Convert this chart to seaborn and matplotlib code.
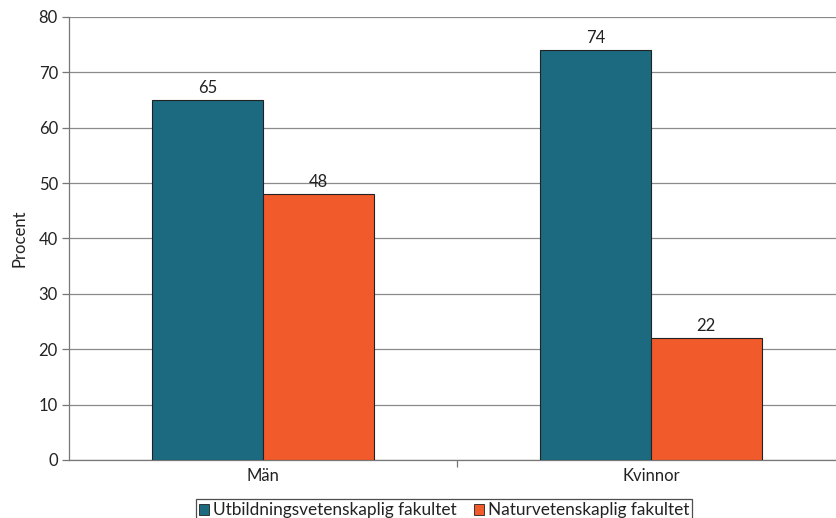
import matplotlib
matplotlib.use("Agg")
import matplotlib.pyplot as plt
import seaborn as sns
import pandas as pd
from matplotlib.patches import Patch

categories = ["Män", "Kvinnor"]
series_names = ["Utbildningsvetenskaplig fakultet", "Naturvetenskaplig fakultet"]
utb_values = [65, 74]
nat_values = [48, 22]
colors = ["#1b6a80", "#f15a2b"]

sns.set_theme(style="white")
plt.rcParams['font.family'] = ['Lato', 'DejaVu Sans']

df = pd.DataFrame({
    "kategori": categories * 2,
    "serie": [series_names[0]] * 2 + [series_names[1]] * 2,
    "procent": utb_values + nat_values,
})

fig = plt.figure(figsize=(8.37, 5.18), dpi=100)
ax = fig.add_axes([69/837, 1-460/518, 776/837, (460-17)/518])

sns.barplot(data=df, x="kategori", y="procent", hue="serie", order=categories,
            hue_order=series_names, palette=colors, width=0.57, dodge=True,
            edgecolor="#222222", linewidth=0.8, saturation=1, ax=ax, legend=False, zorder=3)

for cont in ax.containers:
    ax.bar_label(cont, fmt="%d", padding=3, fontsize=12, color="#222222")

ax.set_ylim(0, 80)
ax.set_xlim(-0.5, 1.5)
ax.set_yticks(range(0, 81, 10))
ax.yaxis.grid(True, color="#8a8a8a", linewidth=0.9, zorder=0)
ax.set_axisbelow(True)
ax.tick_params(axis="y", which="major", length=5, width=0.9, color="#777777",
               direction="out", left=True, labelsize=12, labelcolor="#222222", pad=3)
ax.tick_params(axis="x", which="major", length=0, labelsize=12, labelcolor="#222222", pad=6)
ax.set_xticks([0.5], minor=True)
ax.tick_params(axis="x", which="minor", length=5, width=0.9, color="#777777", direction="out", bottom=True)
for s in ["top", "right"]:
    ax.spines[s].set_visible(False)
for s in ["left", "bottom"]:
    ax.spines[s].set_color("#777777")
    ax.spines[s].set_linewidth(0.9)
ax.set_xlabel("")
ax.set_ylabel("Procent", fontsize=12, color="#222222", labelpad=8)

handles = [Patch(facecolor=c, edgecolor="#222222", linewidth=0.6) for c in colors]
leg = fig.legend(handles, series_names, loc="upper center", bbox_to_anchor=(444/837, 1-499/518),
                 ncol=2, frameon=True, fancybox=False, edgecolor="#222222", fontsize=12.4,
                 handlelength=0.6, handleheight=0.6, handletextpad=0.2, columnspacing=1.0,
                 borderpad=0.2, borderaxespad=0)
leg.get_frame().set_linewidth(0.9)
for t in leg.get_texts():
    t.set_color("#222222")

fig.savefig("out.png", dpi=100)
